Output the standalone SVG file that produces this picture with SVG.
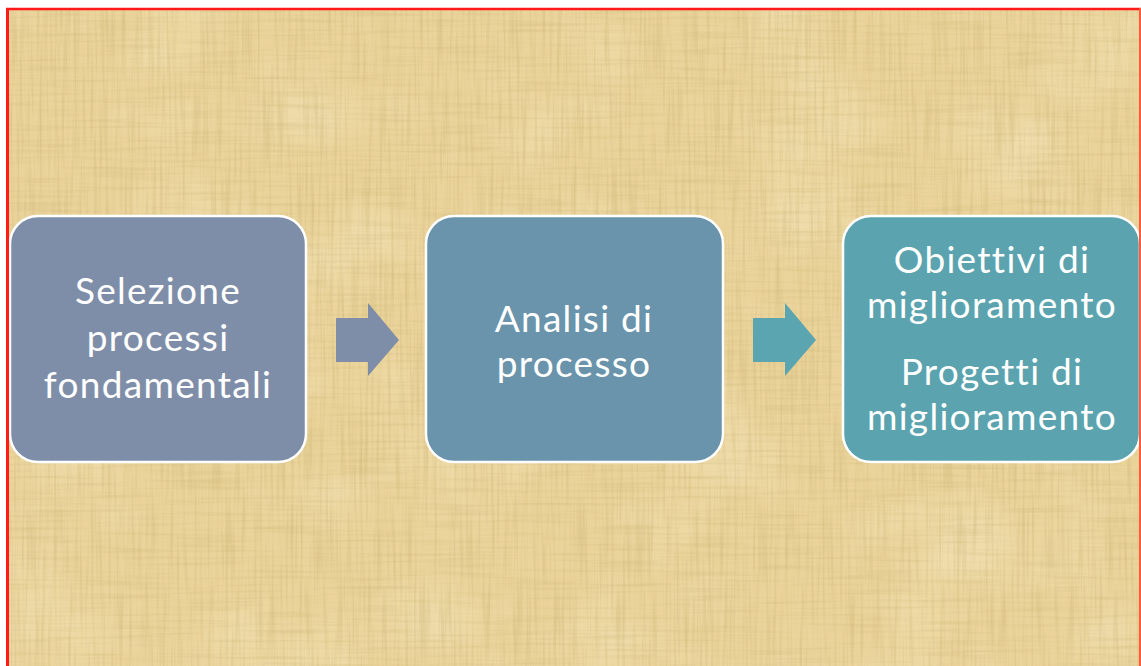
<svg xmlns="http://www.w3.org/2000/svg" width="1141" height="666" viewBox="0 0 1141 666">
  <defs>
    <style>
      .box { stroke: #ffffff; stroke-width: 2.5; }
      .lbl { font-family: Lato, "Open Sans", "Liberation Sans", sans-serif; font-size: 37px; letter-spacing: 1.3px; fill: #ffffff; text-anchor: middle; }
    </style>
    <filter id="fibV" x="0" y="0" width="100%" height="100%">
      <feTurbulence type="fractalNoise" baseFrequency="0.35 0.012" numOctaves="2" seed="3"/>
      <feColorMatrix type="matrix" values="0 0 0 0 0.55  0 0 0 0 0.42  0 0 0 0 0.15  0 0 0 1.7 -0.75"/>
    </filter>
    <filter id="fibH" x="0" y="0" width="100%" height="100%">
      <feTurbulence type="fractalNoise" baseFrequency="0.012 0.3" numOctaves="2" seed="7"/>
      <feColorMatrix type="matrix" values="0 0 0 0 0.55  0 0 0 0 0.42  0 0 0 0 0.15  0 0 0 1.5 -0.7"/>
    </filter>
    <filter id="blot" x="0" y="0" width="100%" height="100%">
      <feTurbulence type="fractalNoise" baseFrequency="0.008 0.01" numOctaves="3" seed="11"/>
      <feColorMatrix type="matrix" values="0 0 0 0 1  0 0 0 0 0.95  0 0 0 0 0.8  0 0 0 1.2 -0.55"/>
    </filter>
  </defs>

  <g id="background">
    <rect x="0" y="0" width="1141" height="666" fill="#ffffff"/>
    <rect x="8" y="10" width="1133" height="656" fill="#ebd49b"/>
    <rect x="8" y="10" width="1133" height="656" filter="url(#blot)" opacity="0.5"/>
    <rect x="8" y="10" width="1133" height="656" filter="url(#fibV)" opacity="0.5"/>
    <rect x="8" y="10" width="1133" height="656" filter="url(#fibH)" opacity="0.4"/>
  </g>

  <g id="connectors">
    <polygon points="336,318 368,318 368,303 399,340 368,376 368,362 336,362" fill="#7f8ea8"/>
    <polygon points="753,318 785,318 785,303 816,340 785,376 785,362 753,362" fill="#5aa5b0"/>
  </g>

  <g id="node1">
    <rect class="box" x="10" y="216" width="296" height="246" rx="28" fill="#7f8ea8"/>
    <text class="lbl" x="158" y="304">Selezione</text>
    <text class="lbl" x="158" y="351">processi</text>
    <text class="lbl" x="158" y="398">fondamentali</text>
  </g>

  <g id="node2">
    <rect class="box" x="426" y="216" width="297" height="246" rx="28" fill="#6994ab"/>
    <text class="lbl" x="574" y="332">Analisi di</text>
    <text class="lbl" x="574" y="377">processo</text>
  </g>

  <g id="node3">
    <rect class="box" x="843" y="216" width="297" height="246" rx="28" fill="#5ba3ae"/>
    <text class="lbl" x="992" y="273">Obiettivi di</text>
    <text class="lbl" x="992" y="318">miglioramento</text>
    <text class="lbl" x="992" y="385">Progetti di</text>
    <text class="lbl" x="992" y="430">miglioramento</text>
  </g>

  <g id="frame" stroke="#ff1a1a" fill="none">
    <line x1="6" y1="9" x2="1141" y2="9" stroke-width="2.5"/>
    <line x1="7.5" y1="8" x2="7.5" y2="666" stroke-width="3"/>
    <line x1="1140" y1="8" x2="1140" y2="666" stroke-width="2" stroke="#ff5a3a"/>
  </g>
</svg>
